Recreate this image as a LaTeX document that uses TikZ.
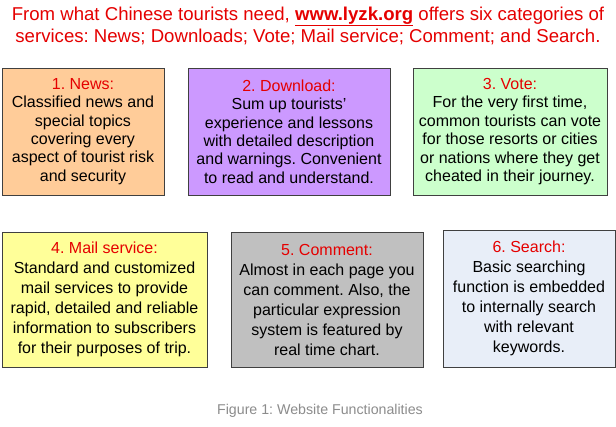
\documentclass[tikz,border=0pt]{standalone}
\usepackage{fontspec}
\setmainfont{Liberation Sans}
\frenchspacing
\begin{document}
\begin{tikzpicture}[x=1pt,y=-1pt,
  box/.style={draw=black!75,line width=0.8pt,inner sep=0pt,align=center,
    font=\fontsize{16}{18.4}\selectfont,text=black},
  boxb/.style={box,font=\fontsize{16}{20}\selectfont}]
\definecolor{cOrange}{HTML}{FFCC99}
\definecolor{cPurple}{HTML}{CC99FF}
\definecolor{cGreen}{HTML}{CCFFCC}
\definecolor{cYellow}{HTML}{FFFF99}
\definecolor{cGray}{HTML}{C0C0C0}
\definecolor{cBlue}{HTML}{E8EEF8}
\colorlet{cHead}{red!90!black}
\useasboundingbox[fill=white] (0,0) rectangle (616,426);
\node[text=cHead,align=center,font=\fontsize{18.6}{22.5}\selectfont] (title) at (308,26)
  {From what Chinese tourists need, \underline{\textbf{www.lyzk.org}} offers six categories of\\
   services: News; Downloads; Vote; Mail service; Comment; and Search.};
\node[box,fill=cOrange,minimum width=162pt,minimum height=127pt] (b1) at (83,131.5)
  {\textcolor{cHead}{1. News:}\\Classified news and\\special topics\\covering every\\aspect of tourist risk\\and security};
\node[box,fill=cPurple,minimum width=202pt,minimum height=127pt] (b2) at (289,131.5)
  {\textcolor{cHead}{2. Download:}\\Sum up tourists’\\experience and lessons\\with detailed description\\and warnings. Convenient\\to read and understand.};
\node[box,fill=cGreen,minimum width=194pt,minimum height=127pt] (b3) at (510,131.5)
  {\textcolor{cHead}{3. Vote:}\\For the very first time,\\common tourists can vote\\for those resorts or cities\\or nations where they get\\cheated in their journey.};
\node[boxb,fill=cYellow,minimum width=205pt,minimum height=135pt] (b4) at (104.5,299.5)
  {\textcolor{cHead}{4. Mail service:}\\Standard and customized\\mail services to provide\\rapid, detailed and reliable\\information to subscribers\\for their purposes of trip.};
\node[boxb,fill=cGray,minimum width=192pt,minimum height=135pt] (b5) at (327,299.5)
  {\textcolor{cHead}{5. Comment:}\\Almost in each page you\\can comment. Also, the\\particular expression\\system is featured by\\real time chart.};
\node[boxb,fill=cBlue,minimum width=172pt,minimum height=137pt] (b6) at (529,298.5)
  {\textcolor{cHead}{6. Search:}\\Basic searching\\function is embedded\\to internally search\\with relevant\\keywords.};
\node[text=black!45,font=\fontsize{14.2}{17}\selectfont] (cap) at (320,411)
  {Figure 1: Website Functionalities};
\end{tikzpicture}
\end{document}
